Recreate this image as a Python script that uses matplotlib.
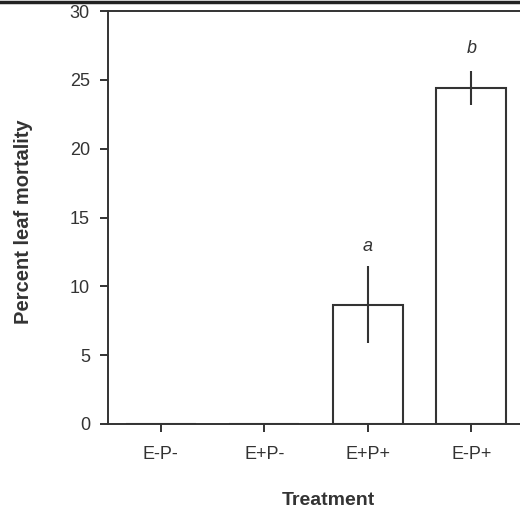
import matplotlib
matplotlib.use("Agg")
import matplotlib.pyplot as plt
from matplotlib.lines import Line2D

treatments = ["E-P-", "E+P-", "E+P+", "E-P+"]
mortality = [0.0, 0.0, 8.65, 24.4]
errors = [0.0, 0.0, 2.8, 1.25]
letters = ["", "", "a", "b"]
letter_y = [0, 0, 12.9, 27.3]

plt.rcParams["font.family"] = ["Liberation Sans", "DejaVu Sans"]
ink = "#333333"

fig = plt.figure(figsize=(5.2, 5.08), dpi=100)
ax = fig.add_axes([108 / 520, 1 - 424 / 508, 415 / 520, 413 / 508])

x = range(len(treatments))
ax.bar(x, mortality, width=0.68, color="white", edgecolor=ink, linewidth=1.5, zorder=2)
for xi, m, e in zip(x, mortality, errors):
    if e > 0:
        ax.errorbar(xi, m, yerr=e, fmt="none", ecolor=ink, elinewidth=1.5, capsize=0, zorder=3)
for xi, lab, ly in zip(x, letters, letter_y):
    if lab:
        ax.text(xi, ly, lab, ha="center", va="center", fontsize=13, style="italic", color=ink)

ax.set_xlim(-0.51, 3.5)
ax.set_ylim(0, 30)
ax.set_yticks(range(0, 31, 5))
ax.set_xticks(list(x))
ax.set_xticklabels(treatments)
for s in ax.spines.values():
    s.set_color(ink)
    s.set_linewidth(1.4)
ax.tick_params(direction="out", length=6, width=1.4, color=ink, labelsize=13, labelcolor=ink)
ax.tick_params(axis="y", pad=7)
ax.tick_params(axis="x", pad=10)

ax.set_ylabel("Percent leaf mortality", fontsize=14.5, fontweight="bold", color=ink)
ax.yaxis.set_label_coords(-0.181, 0.49)
ax.set_xlabel("Treatment", fontsize=14, fontweight="bold", color=ink)
ax.xaxis.set_label_coords(0.53, -0.165)

# page rule at top
fig.add_artist(Line2D([0, 1], [1 - 2 / 508, 1 - 2 / 508], transform=fig.transFigure,
                      color="#222222", linewidth=2.5))

fig.savefig("out.png", dpi=100)
